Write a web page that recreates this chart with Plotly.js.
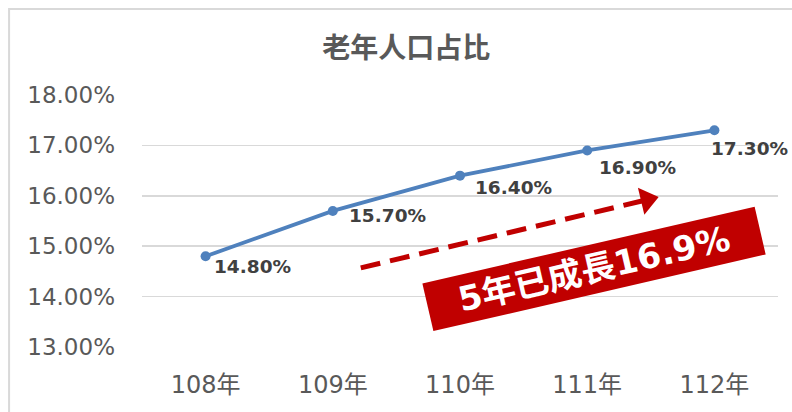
<!DOCTYPE html>
<html>
<head>
<meta charset="utf-8">
<script src="https://cdn.plot.ly/plotly-3.0.1.min.js"></script>
<style>
  html, body { margin: 0; padding: 0; background: #ffffff; }
  #chart { width: 792px; height: 412px; }
</style>
</head>
<body>
<div id="chart"></div>
<script>
// ---- data ----
const categories = ['108年', '109年', '110年', '111年', '112年'];
const elderShare = [14.8, 15.7, 16.4, 16.9, 17.3];   // %
const yTicks = [13, 14, 15, 16, 17, 18];
const yTickLabels = yTicks.map(v => v.toFixed(2) + '%');
const chartTitle = '老年人口占比';
const calloutText = '5年已成長16.9%';

// ---- styling / placement (not data) ----
const latin = 'DejaVu Sans, Noto Sans CJK TC, sans-serif';
const cjk = 'Noto Sans CJK TC, DejaVu Sans, sans-serif';
const labelDx = [6, 14, 13, 10, -5];
const labelDy = [10, 5, 12, 17, 18];
const arrowX = [1.22, 3.47];
const arrowY = [14.57, 15.92];

const xIdx = categories.map((c, i) => i);

const lineTrace = {
  x: xIdx,
  y: elderShare,
  type: 'scatter',
  mode: 'lines+markers',
  line: { color: '#4F81BD', width: 3.8 },
  marker: { color: '#4F81BD', size: 10 },
  hoverinfo: 'skip',
  showlegend: false
};

const arrowTrace = {
  x: arrowX,
  y: arrowY,
  type: 'scatter',
  mode: 'lines+markers',
  line: { color: '#C00000', width: 5, dash: '20px,10px' },
  marker: { symbol: ['circle', 'triangle-up'], size: [0, 24], color: '#C00000', opacity: 1, angleref: 'previous', line: { width: 0, color: '#C00000' } },
  opacity: 1,
  hoverinfo: 'skip',
  showlegend: false
};

const labelAnns = elderShare.map((v, i) => ({
  x: xIdx[i], y: v, xref: 'x', yref: 'y',
  text: v.toFixed(2) + '%',
  showarrow: false,
  xanchor: 'left', yanchor: 'middle',
  xshift: labelDx[i], yshift: -labelDy[i],
  font: { family: latin, size: 18.5, color: '#404040', weight: 'bold' }
}));

const calloutAnn = {
  x: 3.05, y: 14.55, xref: 'x', yref: 'y',
  text: '<b>' + calloutText + '</b>',
  showarrow: false,
  textangle: -13,
  bgcolor: '#C00000',
  width: 340, height: 48,
  borderpad: 0,
  align: 'center', valign: 'middle',
  font: { family: latin, size: 34, color: '#ffffff' }
};

const layout = {
  width: 792, height: 412,
  margin: { l: 142, r: 14, t: 95, b: 65 },
  paper_bgcolor: '#ffffff',
  plot_bgcolor: '#ffffff',
  title: {
    text: '<b>' + chartTitle + '</b>',
    x: 0.513, xref: 'container', xanchor: 'center',
    y: 0.883, yref: 'container', yanchor: 'middle',
    font: { family: cjk, size: 28, color: '#595959' }
  },
  xaxis: {
    type: 'linear',
    range: [-0.5, 4.5],
    tickvals: xIdx,
    ticktext: categories,
    showgrid: false, zeroline: false, showline: false,
    ticks: '',
    ticklabelstandoff: 21,
    tickfont: { family: latin, size: 24, color: '#595959' },
    fixedrange: true
  },
  yaxis: {
    range: [13, 18],
    tickvals: yTicks,
    ticktext: yTickLabels,
    showgrid: true, gridcolor: '#d9d9d9', gridwidth: 1.5,
    zeroline: false, showline: false,
    ticks: '',
    ticklabelstandoff: 26,
    tickfont: { family: latin, size: 23, color: '#595959' },
    fixedrange: true
  },
  shapes: [{
    type: 'rect', xref: 'paper', yref: 'paper',
    x0: -0.209, x1: 1.2, y0: -0.6, y1: 1.341,
    line: { color: '#d9d9d9', width: 2 },
    fillcolor: 'rgba(0,0,0,0)',
    layer: 'below'
  }],
  annotations: labelAnns.concat([calloutAnn]),
  showlegend: false
};

Plotly.newPlot('chart', [lineTrace, arrowTrace], layout, { displayModeBar: false, staticPlot: true });
</script>
</body>
</html>
